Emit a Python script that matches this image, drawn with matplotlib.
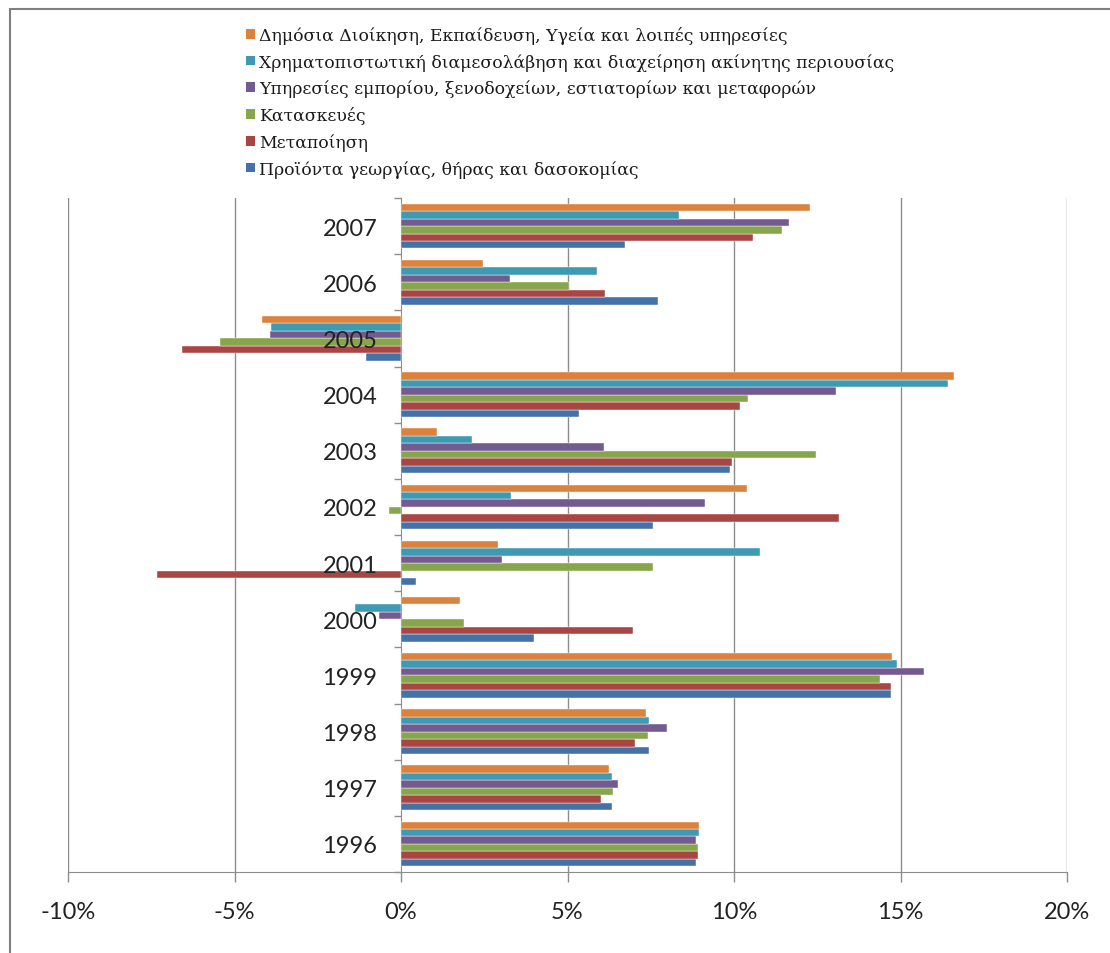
import matplotlib
matplotlib.use("Agg")
import matplotlib.pyplot as plt
import numpy as np
from matplotlib.patches import Patch, Rectangle
from matplotlib.ticker import FuncFormatter, FixedLocator

# -----------------------------------------------------------------------
# Data (annual change, %)
# -----------------------------------------------------------------------
years = [1996, 1997, 1998, 1999, 2000, 2001, 2002, 2003, 2004, 2005, 2006, 2007]

agriculture = [8.87, 6.33, 7.45, 14.70, 3.98, 0.44, 7.56, 9.89, 5.35, -1.05, 7.73, 6.74]
manufacturing = [8.92, 6.02, 7.02, 14.70, 6.97, -7.33, 13.14, 9.93, 10.17, -6.57, 6.13, 10.56]
construction = [8.92, 6.37, 7.41, 14.38, 1.90, 7.56, -0.35, 12.45, 10.42, -5.43, 5.05, 11.45]
trade = [8.87, 6.52, 7.98, 15.71, -0.67, 3.04, 9.13, 6.09, 13.06, -3.94, 3.28, 11.65]
finance = [8.95, 6.33, 7.45, 14.89, -1.37, 10.79, 3.31, 2.13, 16.42, -3.90, 5.90, 8.36]
public = [8.95, 6.25, 7.37, 14.74, 1.78, 2.90, 10.40, 1.07, 16.60, -4.17, 2.47, 12.29]

labels = [
    'Προϊόντα γεωργίας, θήρας και δασοκομίας',
    'Μεταποίηση',
    'Κατασκευές',
    'Υπηρεσίες εμπορίου, ξενοδοχείων, εστιατορίων και μεταφορών',
    'Χρηματοπιστωτική διαμεσολάβηση και διαχείρηση ακίνητης περιουσίας',
    'Δημόσια Διοίκηση, Εκπαίδευση, Υγεία και λοιπές υπηρεσίες',
]
series = [agriculture, manufacturing, construction, trade, finance, public]
colors = ['#4472A8', '#A94643', '#87A64B', '#735A90', '#3E9AB2', '#DC823C']

x_ticks = [-10, -5, 0, 5, 10, 15, 20]

# -----------------------------------------------------------------------
# Figure
# -----------------------------------------------------------------------
W, H = 1110, 954
fig = plt.figure(figsize=(W / 100, H / 100), dpi=100)
ax = fig.add_axes([68 / W, 1 - 873 / H, (1067 - 68) / W, (873 - 199) / H])

grey = '#8C8C8C'
pos = np.arange(len(years))
bar_h = 0.133

for i, (vals, col) in enumerate(zip(series, colors)):
    ax.barh(pos + (i - 2.5) * bar_h, vals, height=bar_h, color=col,
            edgecolor='white', linewidth=0.3, zorder=2)

ax.set_xlim(-10, 20)
ax.set_ylim(-0.5, len(years) - 0.5)
ax.set_axisbelow(False)  # year labels sit on top of the bars

# vertical gridlines
for xv in x_ticks:
    if xv != 0:
        ax.axvline(xv, color=grey, linewidth=1.0, zorder=0.5)

# axes styling
for side in ['top', 'right']:
    ax.spines[side].set_visible(False)
ax.spines['left'].set_position(('data', 0))
ax.spines['left'].set_color(grey)
ax.spines['left'].set_zorder(1)
ax.spines['bottom'].set_color(grey)

ax.set_xticks(x_ticks)
ax.xaxis.set_major_formatter(FuncFormatter(lambda v, _: f'{v:.0f}%'))
ax.tick_params(axis='x', length=7, width=1, color=grey, pad=14,
               labelsize=17, labelcolor='#222222')

ax.set_yticks(pos)
ax.set_yticklabels([str(y) for y in years])
ax.yaxis.set_minor_locator(FixedLocator(np.arange(-0.5, len(years), 1.0)))
ax.tick_params(axis='y', which='major', length=0, pad=17,
               labelsize=17, labelcolor='#222222')
ax.tick_params(axis='y', which='minor', length=5, width=1, color=grey)

for t in ax.get_xticklabels() + ax.get_yticklabels():
    t.set_fontfamily(['Lato', 'DejaVu Sans'])

# legend (top entry = last series)
handles = [Patch(facecolor=c, edgecolor='none') for c in colors][::-1]
leg = fig.legend(handles, labels[::-1], loc='upper left',
                 bbox_to_anchor=(246 / W, 1 - 27 / H), frameon=False,
                 handlelength=0.5, handleheight=0.5, handletextpad=0.25,
                 labelspacing=0.52, borderaxespad=0, borderpad=0,
                 prop={'family': 'DejaVu Serif', 'size': 12.4})
for t in leg.get_texts():
    t.set_color('#1a1a1a')

# outer chart frame
fig.patches.append(Rectangle((10 / W, -0.1), 1.2, 1 - 10 / H + 0.1,
                             transform=fig.transFigure, fill=False,
                             edgecolor='#7F7F7F', linewidth=1.5))

fig.savefig('out.png', dpi=100)
